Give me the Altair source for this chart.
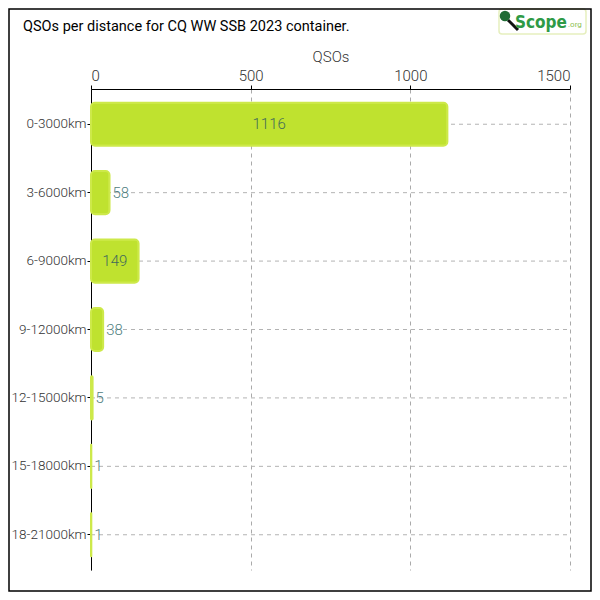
import altair as alt
import pandas as pd

categories = ["0-3000km", "3-6000km", "6-9000km", "9-12000km", "12-15000km", "15-18000km", "18-21000km"]
qsos = [1116, 58, 149, 38, 5, 1, 1]
x_ticks = [0, 500, 1000, 1500]
title_text = "QSOs per distance for CQ WW SSB 2023 container."

df = pd.DataFrame({"dist": categories, "qsos": qsos})

W, H = 479, 481
FONT = "Roboto"

y_enc = alt.Y("dist:N", sort=None,
              scale=alt.Scale(paddingInner=0.37, paddingOuter=0.2),
              axis=alt.Axis(title=None, domainColor="black", tickColor="black", tickSize=4,
                            labelFontSize=13.5, labelColor="#333", labelFont=FONT,
                            labelFontWeight=300, labelPadding=1, grid=False,
                            labelLimit=90))
x_enc = alt.X("qsos:Q", scale=alt.Scale(domain=[0, 1500], nice=False),
              axis=alt.Axis(orient="top", values=x_ticks, format="d", title="QSOs", grid=True,
                            gridDash=[4, 4], gridColor="#aaaaaa", domainColor="black",
                            tickColor="black", tickSize=4, labelFontSize=15, labelFont=FONT,
                            labelFontWeight=300, labelColor="#333", titleFontSize=15,
                            titleFont=FONT, titleFontWeight=300, titleColor="#333",
                            titlePadding=4, labelPadding=2))

base = alt.Chart(df)

grid_rules = base.mark_rule(color="#b3b3b3", strokeDash=[4, 4], strokeWidth=1).encode(
    y=alt.Y("dist:N", sort=None), x=alt.value(0), x2=alt.value(W))

bars = base.mark_bar(cornerRadius=4, color="#bfe22f", stroke="#cde94a", strokeWidth=2).encode(
    x=x_enc, y=y_enc)

inside = base.transform_filter("datum.qsos >= 100").transform_calculate(
    mid="datum.qsos / 2").mark_text(align="center", baseline="middle", fontSize=15,
                                    font=FONT, fontWeight=300, color="#3f6a5a").encode(
    x=alt.X("mid:Q"), y=alt.Y("dist:N", sort=None), text="qsos:Q")

outside = base.transform_filter("datum.qsos < 100").mark_text(
    align="left", baseline="middle", dx=3, fontSize=15, font=FONT, fontWeight=300,
    color="#4f8080").encode(
    x=alt.X("qsos:Q"), y=alt.Y("dist:N", sort=None), text="qsos:Q")

one = pd.DataFrame({"t": [title_text]})

title = alt.Chart(one).mark_text(align="left", baseline="alphabetic", fontSize=14.5,
                                 font=FONT, color="black").encode(
    x=alt.value(-68), y=alt.value(-58), text="t:N")

logo_box = alt.Chart(one).mark_rect(fill="white", stroke="#e6efbf", strokeWidth=1.5,
                                    cornerRadius=3).encode(
    x=alt.value(408), x2=alt.value(495), y=alt.value(-80), y2=alt.value(-55))
logo_handle = alt.Chart(one).mark_rule(color="#111", strokeWidth=3).encode(
    x=alt.value(417), x2=alt.value(427), y=alt.value(-69), y2=alt.value(-59))
logo_circle = alt.Chart(one).mark_point(shape="circle", filled=True, size=110,
                                        color="#1f6b35", opacity=1).encode(
    x=alt.value(414), y=alt.value(-73))
logo_text = alt.Chart(pd.DataFrame({"t": ["Scope"]})).mark_text(
    align="left", baseline="alphabetic", fontSize=17, font="DejaVu Sans Condensed",
    fontWeight="bold", color="#2e9a46").encode(
    x=alt.value(424), y=alt.value(-61), text="t:N")
logo_org = alt.Chart(pd.DataFrame({"t": [".org"]})).mark_text(
    align="left", baseline="alphabetic", fontSize=8, font=FONT, color="#8cc152").encode(
    x=alt.value(477), y=alt.value(-62), text="t:N")

border = alt.Chart(one).mark_rect(fill=None, stroke="black", strokeWidth=1.5).encode(
    x=alt.value(-82), x2=alt.value(500), y=alt.value(-80), y2=alt.value(502))

chart = alt.layer(
    grid_rules, bars, inside, outside, title, logo_box, logo_handle, logo_circle,
    logo_text, logo_org, border
).properties(
    width=W, height=H,
    autosize=alt.AutoSizeParams(type="none"),
    padding={"left": 83, "top": 81, "right": 22, "bottom": 22},
    background="white",
).configure_view(stroke=None)

chart.save("out.html", embed_options={"renderer": "svg", "actions": False})
